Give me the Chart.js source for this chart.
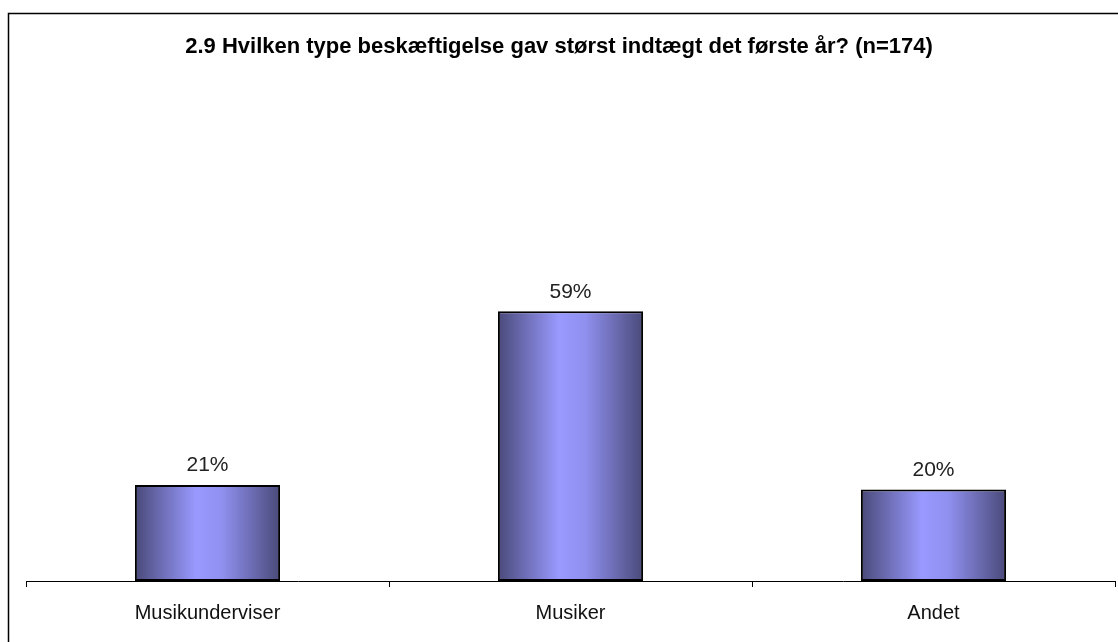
<!DOCTYPE html>
<html>
<head>
<meta charset="utf-8">
<script src="https://cdn.jsdelivr.net/npm/chart.js@4"></script>
<style>
    html, body { margin: 0; padding: 0; background: #fff; overflow: hidden; }
    #wrap { position: relative; width: 1118px; height: 642px; }
</style>
</head>
<body>
<div id="wrap"><canvas id="chart" width="1118" height="642"></canvas></div>
<script>
// 資料
const categories = ['Musikunderviser', 'Musiker', 'Andet'];
const shares = [21, 59, 20];
const chartTitle = '2.9 Hvilken type beskæftigelse gav størst indtægt det første år? (n=174)';

// 長條漸層（左右深、中間亮）
function barGradient(context) {
    const chart = context.chart;
    const xScale = chart.scales.x;
    if (!chart.chartArea || !xScale) return '#9999ff';
    const cx = xScale.getPixelForValue(context.dataIndex);
    const half = (xScale.width / categories.length) * 0.4 / 2;
    const g = chart.ctx.createLinearGradient(cx - half, 0, cx + half, 0);
    g.addColorStop(0, '#4a4a7a');
    g.addColorStop(0.42, '#9999ff');
    g.addColorStop(0.6, '#9090f0');
    g.addColorStop(1, '#4a4a7a');
    return g;
}

// 外框與標題
const framePlugin = {
    id: 'frame',
    beforeDraw(chart) {
        const ctx = chart.ctx;
        ctx.save();
        ctx.fillStyle = '#fff';
        ctx.fillRect(0, 0, chart.width, chart.height);
        ctx.strokeStyle = '#000';
        ctx.lineWidth = 1.5;
        ctx.beginPath();
        ctx.moveTo(8.5, chart.height + 5);
        ctx.lineTo(8.5, 13.5);
        ctx.lineTo(chart.width + 5, 13.5);
        ctx.stroke();

        ctx.font = 'bold 22px "Liberation Sans", Arial, sans-serif';
        ctx.fillStyle = '#000';
        ctx.textAlign = 'center';
        ctx.textBaseline = 'middle';
        ctx.fillText(chartTitle, 559, 47);
        ctx.restore();
    }
};

// 數值標籤
const valueLabels = {
    id: 'valueLabels',
    afterDatasetsDraw(chart) {
        const ctx = chart.ctx;
        const meta = chart.getDatasetMeta(0);
        ctx.save();
        ctx.font = '21px "Liberation Sans", Arial, sans-serif';
        ctx.fillStyle = '#222';
        ctx.textAlign = 'center';
        ctx.textBaseline = 'bottom';
        meta.data.forEach((bar, i) => {
            ctx.fillText(shares[i] + '%', bar.x, bar.y - 9);
        });
        ctx.restore();
    }
};

new Chart(document.getElementById('chart'), {
    type: 'bar',
    data: {
        labels: categories,
        datasets: [{
            data: shares,
            backgroundColor: barGradient,
            borderColor: '#000',
            borderWidth: 2,
            borderSkipped: false,
            categoryPercentage: 0.4,
            barPercentage: 1
        }]
    },
    options: {
        responsive: false,
        animation: false,
        events: [],
        layout: { padding: { left: 26, right: 3, top: 124, bottom: 3 } },
        scales: {
            x: {
                grid: {
                    display: true,
                    offset: true,
                    drawOnChartArea: false,
                    drawTicks: true,
                    tickLength: 6,
                    color: '#000'
                },
                border: { display: true, color: '#000', width: 1 },
                ticks: {
                    color: '#111',
                    padding: 14,
                    font: { family: '"Liberation Sans", Arial, sans-serif', size: 20 }
                }
            },
            y: {
                display: false,
                min: 0,
                max: 100
            }
        },
        plugins: {
            legend: { display: false },
            tooltip: { enabled: false },
            title: { display: false }
        }
    },
    plugins: [framePlugin, valueLabels]
});
</script>
</body>
</html>
